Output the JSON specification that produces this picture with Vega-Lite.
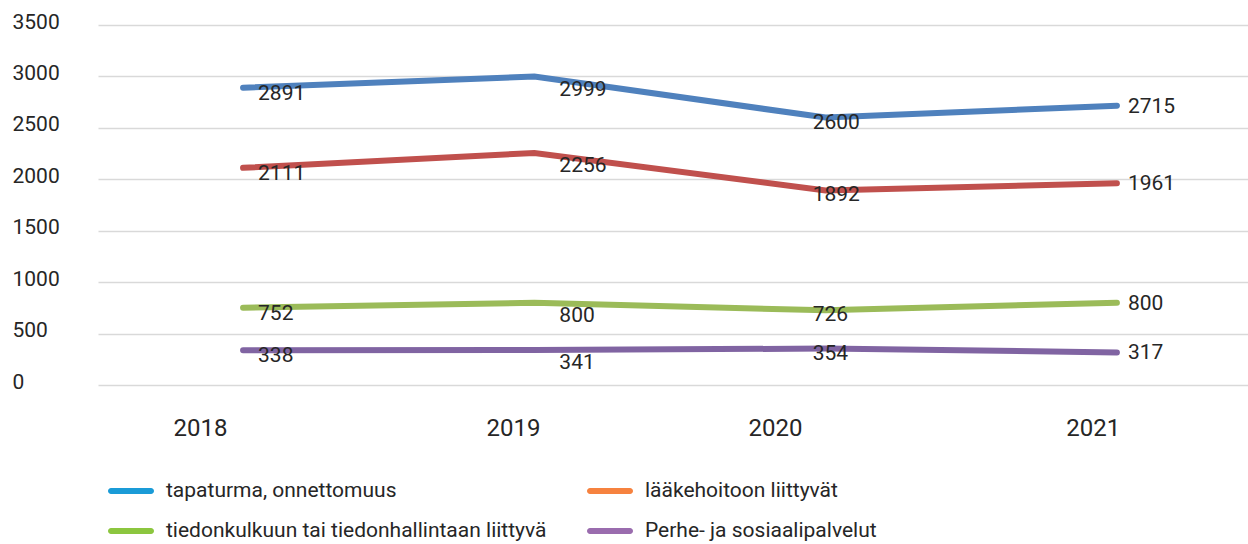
{
  "$schema": "https://vega.github.io/schema/vega-lite/v6.json",
  "autosize": {"type": "none"},
  "padding": {"left": 98, "top": 25, "right": 0, "bottom": 159},
  "width": 1150,
  "height": 360,
  "background": "white",
  "config": {
    "view": {"stroke": null},
    "font": "Roboto",
    "text": {"font": "Roboto"}
  },
  "data": {
    "values": [
      {"year": 2018, "series": "tapaturma, onnettomuus", "value": 2891},
      {"year": 2019, "series": "tapaturma, onnettomuus", "value": 2999},
      {"year": 2020, "series": "tapaturma, onnettomuus", "value": 2600},
      {"year": 2021, "series": "tapaturma, onnettomuus", "value": 2715},
      {"year": 2018, "series": "lääkehoitoon liittyvät", "value": 2111},
      {"year": 2019, "series": "lääkehoitoon liittyvät", "value": 2256},
      {"year": 2020, "series": "lääkehoitoon liittyvät", "value": 1892},
      {"year": 2021, "series": "lääkehoitoon liittyvät", "value": 1961},
      {"year": 2018, "series": "tiedonkulkuun tai tiedonhallintaan liittyvä", "value": 752},
      {"year": 2019, "series": "tiedonkulkuun tai tiedonhallintaan liittyvä", "value": 800},
      {"year": 2020, "series": "tiedonkulkuun tai tiedonhallintaan liittyvä", "value": 726},
      {"year": 2021, "series": "tiedonkulkuun tai tiedonhallintaan liittyvä", "value": 800},
      {"year": 2018, "series": "Perhe- ja sosiaalipalvelut", "value": 338},
      {"year": 2019, "series": "Perhe- ja sosiaalipalvelut", "value": 341},
      {"year": 2020, "series": "Perhe- ja sosiaalipalvelut", "value": 354},
      {"year": 2021, "series": "Perhe- ja sosiaalipalvelut", "value": 317}
    ]
  },
  "encoding": {
    "x": {
      "field": "year",
      "type": "quantitative",
      "scale": {"domain": [2017.502, 2021.45], "nice": false, "zero": false},
      "axis": {
        "values": [2017.852, 2018.927, 2019.826, 2020.917],
        "labelExpr": "'' + round(datum.value)",
        "title": null,
        "grid": false,
        "domain": false,
        "ticks": false,
        "tickSize": 0,
        "labelPadding": 43,
        "labelBaseline": "middle",
        "labelFontSize": 24,
        "labelColor": "#262626",
        "labelFont": "Roboto",
        "labelFlush": false,
        "labelOverlap": false
      }
    },
    "y": {
      "field": "value",
      "type": "quantitative",
      "scale": {"domain": [0, 3500], "nice": false},
      "axis": {
        "values": [0, 500, 1000, 1500, 2000, 2500, 3000, 3500],
        "format": "d",
        "title": null,
        "grid": true,
        "gridColor": "#d9d9d9",
        "gridWidth": 1.5,
        "domain": false,
        "ticks": false,
        "tickSize": 0,
        "labelAlign": "left",
        "labelBaseline": "middle",
        "labelPadding": 86,
        "labelOffset": -3,
        "labelFontSize": 21,
        "labelColor": "#262626",
        "labelFont": "Roboto"
      }
    }
  },
  "layer": [
    {
      "mark": {"type": "line", "strokeWidth": 6, "strokeCap": "round"},
      "encoding": {
        "stroke": {
          "field": "series",
          "type": "nominal",
          "scale": {
            "domain": ["Perhe- ja sosiaalipalvelut", "lääkehoitoon liittyvät", "tapaturma, onnettomuus", "tiedonkulkuun tai tiedonhallintaan liittyvä"],
            "range": ["#8064a2", "#c0504d", "#4f81bd", "#9bbb59"]
          },
          "legend": null
        }
      }
    },
    {
      "mark": {"type": "point", "filled": true, "opacity": 0},
      "encoding": {
        "fill": {
          "field": "series",
          "type": "nominal",
          "scale": {
            "domain": ["tapaturma, onnettomuus", "lääkehoitoon liittyvät", "tiedonkulkuun tai tiedonhallintaan liittyvä", "Perhe- ja sosiaalipalvelut"],
            "range": ["#1a9bd7", "#f6823f", "#8cc63f", "#9a6cae"]
          },
          "legend": {
            "title": null,
            "orient": "none",
            "legendX": 10,
            "legendY": 443,
            "columns": 2,
            "direction": "horizontal",
            "padding": 0,
            "symbolType": "M-0.87,-0.13 L0.87,-0.13 A0.13,0.13 0 0 1 0.87,0.13 L-0.87,0.13 A0.13,0.13 0 0 1 -0.87,-0.13 Z",
            "symbolSize": 2116,
            "symbolStrokeWidth": 0,
            "symbolOpacity": 1,
            "labelFontSize": 21,
            "labelFont": "Roboto",
            "labelColor": "#262626",
            "labelOffset": 12,
            "labelLimit": 600,
            "rowPadding": 7,
            "columnPadding": 39
          }
        }
      }
    },
    {
      "transform": [{"filter": "datum.year == 2018"}],
      "mark": {"type": "text", "align": "left", "baseline": "middle", "dx": 15, "dy": 6, "fontSize": 21, "color": "#262626"},
      "encoding": {"text": {"field": "value", "type": "quantitative"}}
    },
    {
      "transform": [{"filter": "datum.year == 2019"}],
      "mark": {"type": "text", "align": "left", "baseline": "middle", "dx": 25, "dy": 13, "fontSize": 21, "color": "#262626"},
      "encoding": {"text": {"field": "value", "type": "quantitative"}}
    },
    {
      "transform": [{"filter": "datum.year == 2020"}],
      "mark": {"type": "text", "align": "left", "baseline": "middle", "dx": -13, "dy": 5, "fontSize": 21, "color": "#262626"},
      "encoding": {"text": {"field": "value", "type": "quantitative"}}
    },
    {
      "transform": [{"filter": "datum.year == 2021"}],
      "mark": {"type": "text", "align": "left", "baseline": "middle", "dx": 11, "dy": 1, "fontSize": 21, "color": "#262626"},
      "encoding": {"text": {"field": "value", "type": "quantitative"}}
    }
  ]
}
